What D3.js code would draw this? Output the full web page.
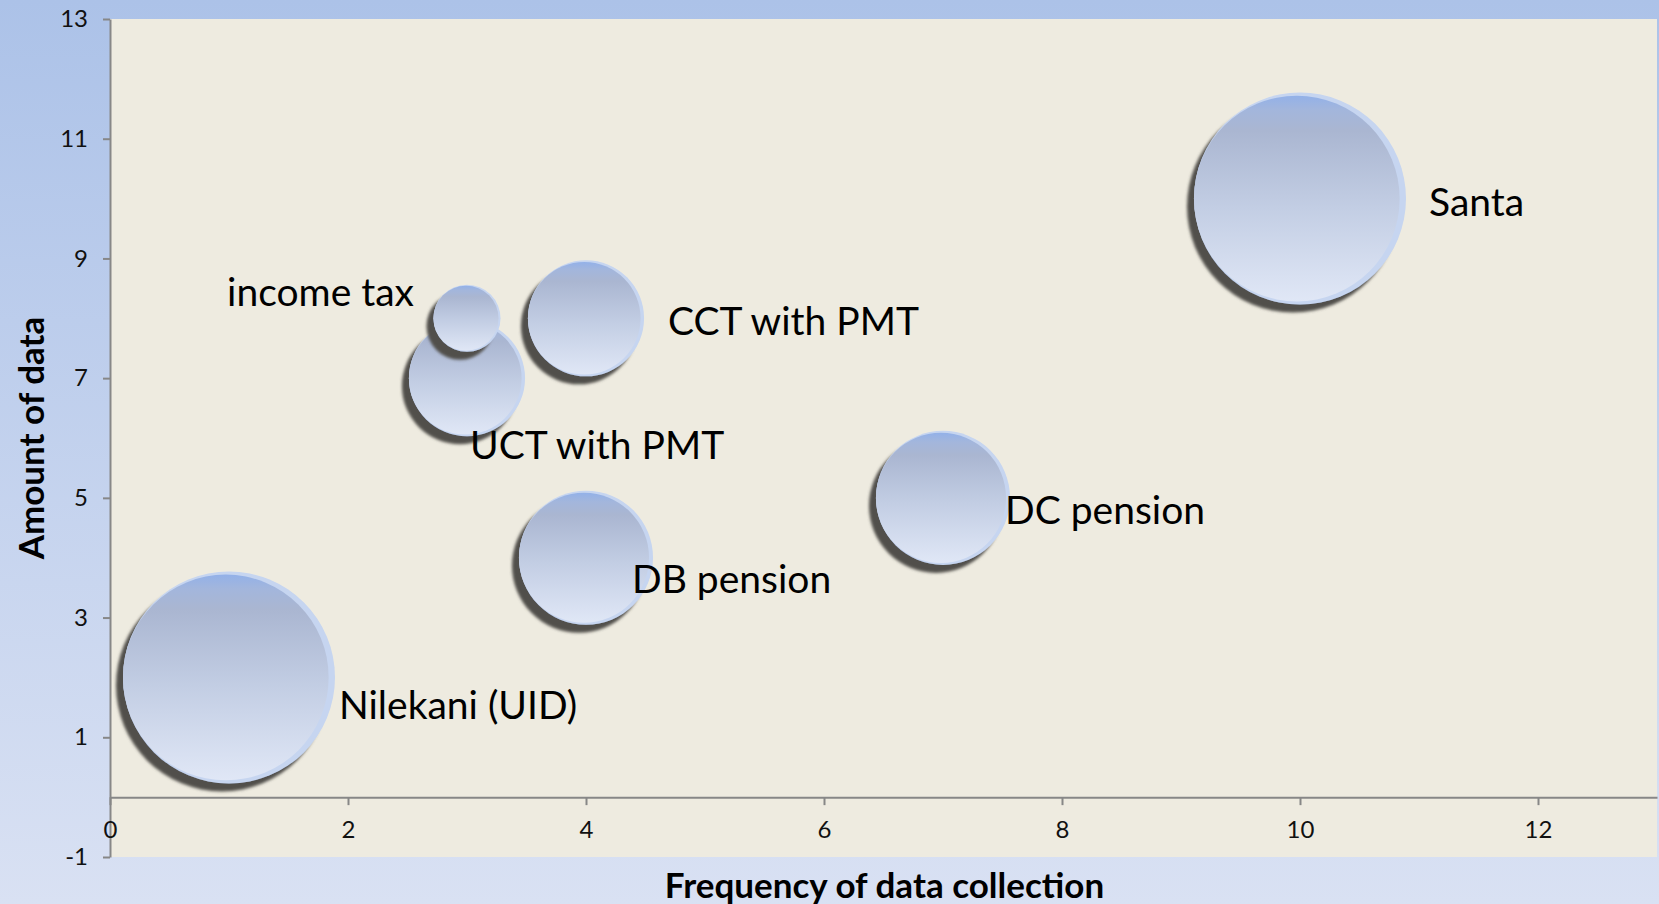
<!DOCTYPE html>
<html>
<head>
<meta charset="utf-8">
<script src="https://cdn.jsdelivr.net/npm/d3@7"></script>
<style>
  html, body { margin: 0; padding: 0; overflow: hidden; }
  svg { display: block; }
</style>
</head>
<body>
<svg id="chart" width="1659" height="904"></svg>
<script>
// ---- data ----
const categories = ["Nilekani (UID)", "income tax", "UCT with PMT", "CCT with PMT", "DB pension", "DC pension", "Santa"];
const frequency  = [1, 3, 3, 4, 4, 7, 10];
const amount     = [2, 8, 7, 8, 4, 5, 10];
const bubbleSize = [10, 1, 3, 3, 4, 4, 10];
const xTicks = [0, 2, 4, 6, 8, 10, 12];
const yTicks = [13, 11, 9, 7, 5, 3, 1, -1];
const xTitle = "Frequency of data collection";
const yTitle = "Amount of data";

// ---- layout (label placement, pixels relative to bubble centre) ----
const labelLayout = {
  "Nilekani (UID)": { dx: 110, dy: 27, anchor: "start" },
  "income tax":     { dx: -53, dy: -27, anchor: "end" },
  "UCT with PMT":   { dx: 3,   dy: 66, anchor: "start" },
  "CCT with PMT":   { dx: 82,  dy: 2,  anchor: "start" },
  "DB pension":     { dx: 46,  dy: 20, anchor: "start" },
  "DC pension":     { dx: 62,  dy: 11, anchor: "start" },
  "Santa":          { dx: 129, dy: 2,  anchor: "start" }
};

const W = 1659, H = 904;
const font = "Lato, 'Open Sans', 'DejaVu Sans', sans-serif";
const svg = d3.select("#chart");
const defs = svg.append("defs");

// background gradient
const bg = defs.append("linearGradient").attr("id", "bg").attr("x1", 0).attr("y1", 0).attr("x2", 0).attr("y2", 1);
bg.append("stop").attr("offset", "0%").attr("stop-color", "#acc2e8");
bg.append("stop").attr("offset", "100%").attr("stop-color", "#d9e1f3");

// bubble gradient
const bgrad = defs.append("linearGradient").attr("id", "bub").attr("x1", 0).attr("y1", 0).attr("x2", 0).attr("y2", 1);
[["0%", "#93b1e8"], ["7%", "#a3b6dc"], ["17%", "#aab6d1"], ["55%", "#c3cee4"], ["100%", "#e0e7f6"]]
  .forEach(([o, c]) => bgrad.append("stop").attr("offset", o).attr("stop-color", c));

const shadow = defs.append("filter").attr("id", "shadow")
  .attr("x", "-30%").attr("y", "-30%").attr("width", "160%").attr("height", "160%");
shadow.append("feDropShadow").attr("dx", -7).attr("dy", 8).attr("stdDeviation", 1.6)
  .attr("flood-color", "#51504b").attr("flood-opacity", 1);

svg.append("rect").attr("width", W).attr("height", H).attr("fill", "url(#bg)");

// scales
const x = d3.scaleLinear().domain([0, 13]).range([110, 1657]);
const y = d3.scaleLinear().domain([-1, 13]).range([857, 19]);
const r = d3.scaleSqrt().domain([0, 10]).range([0, 106]);

// plot area
svg.append("rect")
  .attr("x", x(0)).attr("y", y(13))
  .attr("width", x(13) - x(0)).attr("height", y(-1) - y(13))
  .attr("fill", "#eeebe0");

// axes
const axisColor = "#878787";
const fmt = d => String(d);
const yAxis = svg.append("g").attr("transform", `translate(${x(0)},0)`)
  .call(d3.axisLeft(y).tickValues(yTicks).tickSize(7).tickSizeOuter(0).tickPadding(15).tickFormat(fmt));
const xAxis = svg.append("g").attr("transform", `translate(0,${y(0)})`)
  .call(d3.axisBottom(x).tickValues(xTicks).tickSize(8).tickSizeOuter(0).tickPadding(16).tickFormat(fmt));
[xAxis, yAxis].forEach(g => {
  g.select(".domain").attr("stroke", axisColor).attr("stroke-width", 2);
  g.selectAll(".tick line").attr("stroke", axisColor).attr("stroke-width", 2);
  g.selectAll(".tick text").attr("fill", "#111").style("font-family", font).style("font-size", "24px");
});

// bubbles
const data = categories.map((c, i) => ({ name: c, fx: frequency[i], fy: amount[i], s: bubbleSize[i] }))
  .sort((a, b) => b.s - a.s);

const bubbles = svg.append("g").selectAll("g").data(data).join("g")
  .attr("transform", d => `translate(${x(d.fx)},${y(d.fy)})`);
bubbles.append("circle").attr("r", d => r(d.s)).attr("fill", "#c6d5f0").attr("filter", "url(#shadow)");
bubbles.append("circle")
  .attr("cx", d => -r(d.s) * 0.03)
  .attr("r", d => r(d.s) * 0.97)
  .attr("fill", "url(#bub)");

// labels
svg.append("g").selectAll("text").data(data).join("text")
  .attr("x", d => x(d.fx) + labelLayout[d.name].dx)
  .attr("y", d => y(d.fy) + labelLayout[d.name].dy)
  .attr("text-anchor", d => labelLayout[d.name].anchor)
  .attr("dominant-baseline", "central")
  .style("font-family", font).style("font-size", "39px").attr("fill", "#000")
  .text(d => d.name);

// axis titles
svg.append("text")
  .attr("x", (x(0) + x(13)) / 2 + 1).attr("y", 884)
  .attr("text-anchor", "middle").attr("dominant-baseline", "central")
  .style("font-family", font).style("font-size", "35px").style("font-weight", "bold")
  .text(xTitle);
svg.append("text")
  .attr("transform", `translate(30,${y(6)}) rotate(-90)`)
  .attr("text-anchor", "middle").attr("dominant-baseline", "central")
  .style("font-family", font).style("font-size", "35px").style("font-weight", "bold")
  .text(yTitle);
</script>
</body>
</html>
